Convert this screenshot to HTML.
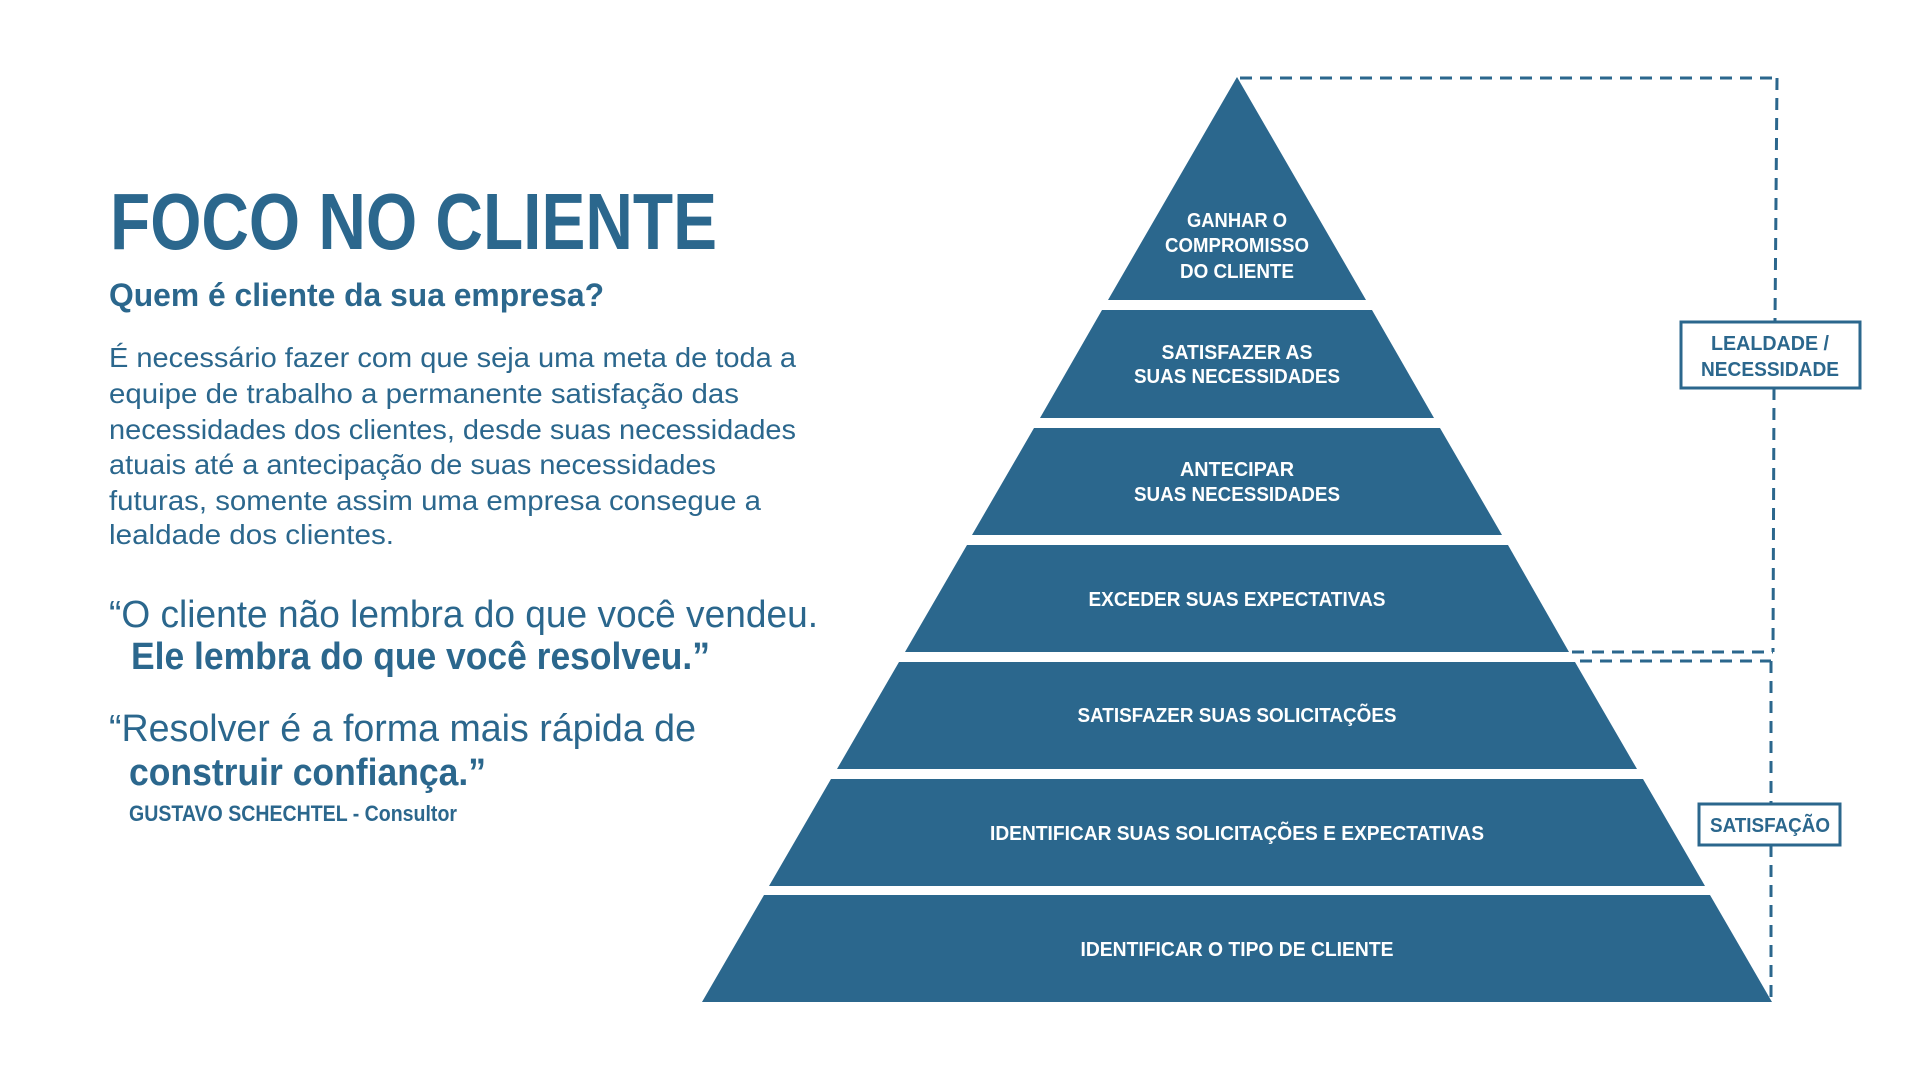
<!DOCTYPE html>
<html><head><meta charset="utf-8"><style>
html,body{margin:0;padding:0;background:#fff;}
svg{display:block;}
text{font-family:"Liberation Sans Narrow","Liberation Sans",sans-serif;}
.w{fill:#fff;font-weight:bold;font-size:20px;}
.b{fill:#2b678d;}
</style></head><body>
<svg width="1920" height="1080" viewBox="0 0 1920 1080" xmlns="http://www.w3.org/2000/svg">
<rect width="1920" height="1080" fill="#fff"/>
<g fill="#2b678d">
<polygon points="1237,77 1366,300 1108,300"/>
<polygon points="1102,310 1372,310 1434,418 1040,418"/>
<polygon points="1034,428 1440,428 1502,535 972,535"/>
<polygon points="967,545 1508,545 1569,652 905,652"/>
<polygon points="899,662 1575,662 1637,769 837,769"/>
<polygon points="831,779 1643,779 1705,886 769,886"/>
<polygon points="764,895 1710,895 1772,1002 702,1002"/>
</g>
<g stroke="#2b678d" stroke-width="3" fill="none" stroke-dasharray="12,8">
<line x1="1240" y1="78" x2="1777" y2="78"/>
<line x1="1777" y1="78" x2="1775" y2="322"/>
<line x1="1774" y1="388" x2="1773" y2="652"/>
<line x1="1572" y1="652" x2="1773" y2="652"/>
<line x1="1580" y1="661" x2="1771" y2="661"/>
<line x1="1771" y1="661" x2="1771" y2="804"/>
<line x1="1771" y1="845" x2="1771" y2="1002"/>
</g>
<rect x="1681" y="322" width="179" height="66" fill="#fff" stroke="#2b678d" stroke-width="3"/>
<rect x="1699" y="804" width="141" height="41" fill="#fff" stroke="#2b678d" stroke-width="3"/>
<g class="b" font-weight="bold" font-size="20" text-anchor="middle">
<text x="1770" y="350" textLength="118" lengthAdjust="spacingAndGlyphs">LEALDADE /</text>
<text x="1770" y="376" textLength="138" lengthAdjust="spacingAndGlyphs">NECESSIDADE</text>
<text x="1770" y="832" textLength="120" lengthAdjust="spacingAndGlyphs">SATISFAÇÃO</text>
</g>
<g class="w" text-anchor="middle">
<text x="1237" y="227" textLength="100" lengthAdjust="spacingAndGlyphs">GANHAR O</text>
<text x="1237" y="252" textLength="144" lengthAdjust="spacingAndGlyphs">COMPROMISSO</text>
<text x="1237" y="278" textLength="114" lengthAdjust="spacingAndGlyphs">DO CLIENTE</text>
<text x="1237" y="359" textLength="151" lengthAdjust="spacingAndGlyphs">SATISFAZER AS</text>
<text x="1237" y="383" textLength="206" lengthAdjust="spacingAndGlyphs">SUAS NECESSIDADES</text>
<text x="1237" y="476" textLength="114" lengthAdjust="spacingAndGlyphs">ANTECIPAR</text>
<text x="1237" y="501" textLength="206" lengthAdjust="spacingAndGlyphs">SUAS NECESSIDADES</text>
<text x="1237" y="606" textLength="297" lengthAdjust="spacingAndGlyphs">EXCEDER SUAS EXPECTATIVAS</text>
<text x="1237" y="722" textLength="319" lengthAdjust="spacingAndGlyphs">SATISFAZER SUAS SOLICITAÇÕES</text>
<text x="1237" y="840" textLength="494" lengthAdjust="spacingAndGlyphs">IDENTIFICAR SUAS SOLICITAÇÕES E EXPECTATIVAS</text>
<text x="1237" y="956" textLength="313" lengthAdjust="spacingAndGlyphs">IDENTIFICAR O TIPO DE CLIENTE</text>
</g>
<g class="b">
<text x="110" y="249" font-size="80" font-weight="bold" textLength="607" lengthAdjust="spacingAndGlyphs">FOCO NO CLIENTE</text>
<text x="109" y="306" font-size="32" font-weight="bold" textLength="495" lengthAdjust="spacingAndGlyphs">Quem é cliente da sua empresa?</text>
<g font-size="28">
<text x="109" y="367" textLength="687" lengthAdjust="spacingAndGlyphs">É necessário fazer com que seja uma meta de toda a</text>
<text x="109" y="403" textLength="630" lengthAdjust="spacingAndGlyphs">equipe de trabalho a permanente satisfação das</text>
<text x="109" y="439" textLength="687" lengthAdjust="spacingAndGlyphs">necessidades dos clientes, desde suas necessidades</text>
<text x="109" y="474" textLength="607" lengthAdjust="spacingAndGlyphs">atuais até a antecipação de suas necessidades</text>
<text x="109" y="510" textLength="652" lengthAdjust="spacingAndGlyphs">futuras, somente assim uma empresa consegue a</text>
<text x="109" y="544" textLength="285" lengthAdjust="spacingAndGlyphs">lealdade dos clientes.</text>
</g>
<g font-size="38">
<text x="109" y="627" textLength="709" lengthAdjust="spacingAndGlyphs">“O cliente não lembra do que você vendeu.</text>
<text x="131" y="669" font-weight="bold" textLength="579" lengthAdjust="spacingAndGlyphs">Ele lembra do que você resolveu.”</text>
<text x="109" y="741" textLength="587" lengthAdjust="spacingAndGlyphs">“Resolver é a forma mais rápida de</text>
<text x="129" y="785" font-weight="bold" textLength="357" lengthAdjust="spacingAndGlyphs">construir confiança.”</text>
</g>
<text x="129" y="821" font-size="22" font-weight="bold" textLength="328" lengthAdjust="spacingAndGlyphs">GUSTAVO SCHECHTEL - Consultor</text>
</g>
</svg>
</body></html>
